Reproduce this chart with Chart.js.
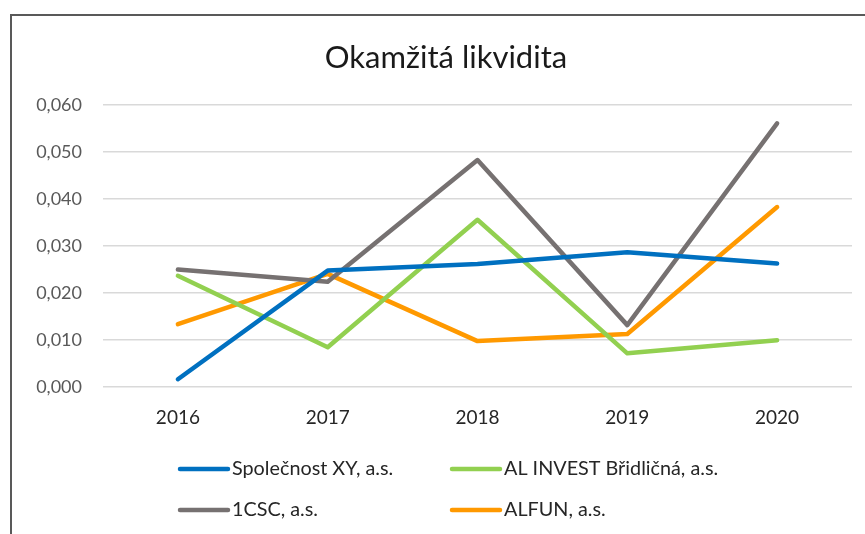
<!DOCTYPE html>
<html>
<head>
<meta charset="utf-8">
<script src="https://cdn.jsdelivr.net/npm/chart.js@4/dist/chart.umd.min.js"></script>
<style>
  html, body { margin: 0; padding: 0; background: #fff; }
  #wrap { position: relative; width: 865px; height: 534px; }
</style>
</head>
<body>
<div id="wrap"><canvas id="c" width="865" height="534"></canvas></div>
<script>
const chartTitle = "Okamžitá likvidita";
const years = ["2016", "2017", "2018", "2019", "2020"];
const seriesNames = ["Společnost XY, a.s.", "AL INVEST Břidličná, a.s.", "1CSC, a.s.", "ALFUN, a.s."];
const spolecnostXY = [0.0017, 0.0248, 0.0262, 0.0287, 0.0263];
const alInvest = [0.0237, 0.0085, 0.0356, 0.0072, 0.0100];
const csc = [0.0250, 0.0224, 0.0483, 0.0132, 0.0561];
const alfun = [0.0134, 0.0241, 0.0098, 0.0113, 0.0383];
const seriesColors = ["#0070C0", "#92D050", "#767171", "#FF9900"];
const yTicks = [0, 0.01, 0.02, 0.03, 0.04, 0.05, 0.06];

const FONT = "Lato, 'Liberation Sans', sans-serif";
const seriesValues = [spolecnostXY, alInvest, csc, alfun];

const framePlugin = {
  id: 'frame',
  beforeDraw(chart) {
    const ctx = chart.ctx;
    ctx.save();
    ctx.strokeStyle = '#595959';
    ctx.lineWidth = 2;
    ctx.beginPath();
    ctx.moveTo(11, 534);
    ctx.lineTo(11, 15);
    ctx.lineTo(865, 15);
    ctx.stroke();
    ctx.restore();
  },
  afterDraw(chart) {
    const ctx = chart.ctx;
    ctx.save();
    ctx.font = "31px " + FONT;
    ctx.fillStyle = '#1a1a1a';
    ctx.textAlign = 'center';
    ctx.textBaseline = 'middle';
    ctx.fillText(chartTitle, 446, 58);
    ctx.restore();
  }
};

const legendPlugin = {
  id: 'gridLegend',
  afterDraw(chart) {
    const ctx = chart.ctx;
    const colX = [178, 450];
    const rowY = [469, 510];
    ctx.save();
    ctx.font = "19.8px " + FONT;
    ctx.textBaseline = 'middle';
    ctx.textAlign = 'left';
    chart.data.datasets.forEach((ds, i) => {
      const x = colX[i % 2];
      const y = rowY[Math.floor(i / 2)];
      ctx.strokeStyle = ds.borderColor;
      ctx.lineWidth = 4.5;
      ctx.lineCap = 'round';
      ctx.beginPath();
      ctx.moveTo(x + 2, y);
      ctx.lineTo(x + 50, y);
      ctx.stroke();
      ctx.fillStyle = '#262626';
      ctx.fillText(ds.label, x + 54, y);
    });
    ctx.restore();
  }
};

new Chart(document.getElementById('c'), {
  type: 'line',
  data: {
    labels: years,
    datasets: seriesNames.map((name, i) => ({
      label: name,
      data: seriesValues[i],
      borderColor: seriesColors[i],
      backgroundColor: seriesColors[i],
      borderWidth: 4.5,
      pointRadius: 0,
      pointHoverRadius: 0,
      tension: 0,
      borderCapStyle: 'round',
      borderJoinStyle: 'round',
      fill: false
    }))
  },
  options: {
    responsive: false,
    animation: false,
    events: [],
    layout: { padding: { left: 0, right: 13, top: 105, bottom: 86 } },
    plugins: {
      legend: { display: false },
      tooltip: { enabled: false },
      title: { display: false }
    },
    scales: {
      x: {
        offset: true,
        grid: { display: false, drawTicks: false },
        border: { display: false },
        ticks: { color: '#262626', font: { family: FONT, size: 19 }, padding: 19 }
      },
      y: {
        min: 0,
        max: 0.06,
        afterFit(scale) { scale.width = 103; },
        afterBuildTicks(scale) { scale.ticks = yTicks.map(v => ({ value: v })); },
        grid: { color: '#D9D9D9', lineWidth: 1.5, drawTicks: false },
        border: { display: false },
        ticks: {
          color: '#595959',
          font: { family: FONT, size: 18 },
          padding: 21,
          callback: v => v.toFixed(3).replace('.', ',')
        }
      }
    }
  },
  plugins: [framePlugin, legendPlugin]
});
</script>
</body>
</html>
